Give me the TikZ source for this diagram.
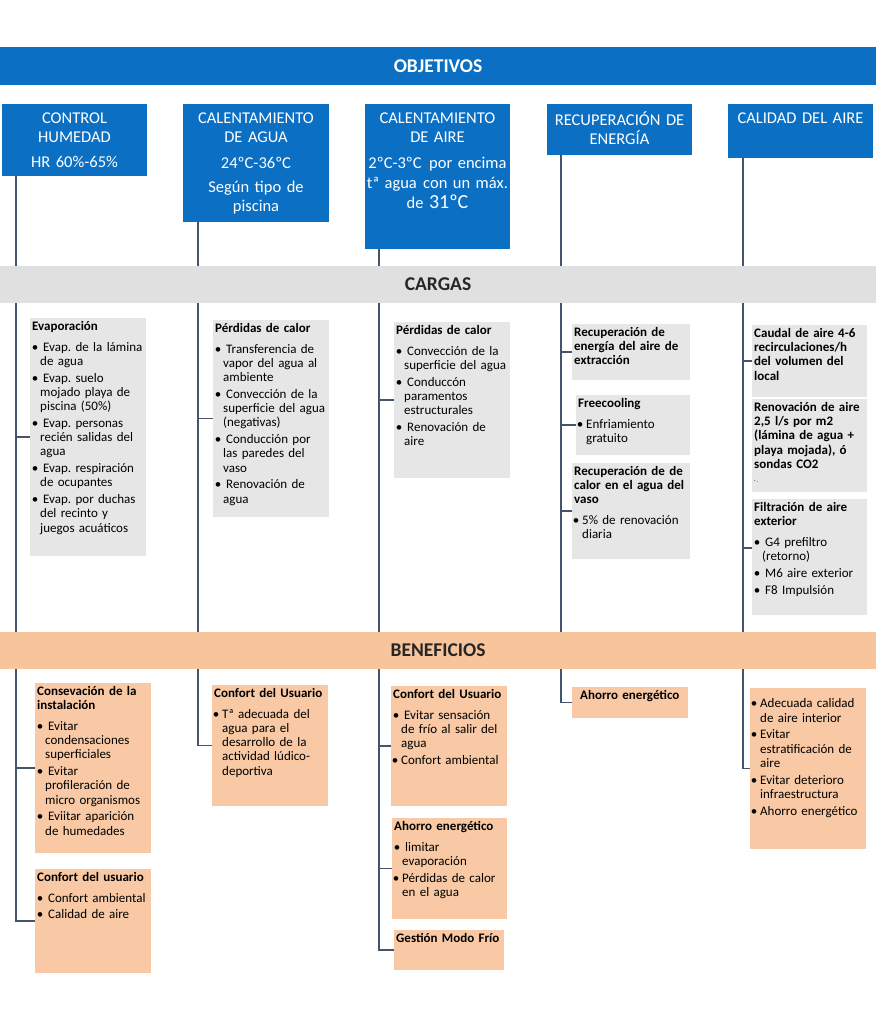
\documentclass[tikz,border=0pt]{standalone}
\usepackage{fontspec}
\setmainfont{Carlito}
\frenchspacing
\definecolor{objblue}{HTML}{0B6FC4}
\definecolor{linec}{HTML}{44546A}
\definecolor{grayband}{HTML}{E0E0E0}
\definecolor{graybox}{HTML}{E6E6E6}
\definecolor{peachband}{HTML}{F7C49C}
\definecolor{peachbox}{HTML}{F8C9A4}
\pgfdeclarelayer{back}
\pgfsetlayers{back,main}
\newcommand{\nl}{\newline}
\newcommand{\itm}[1]{\par\vspace{2.4pt}\hangindent=8pt\hangafter=1\noindent\makebox[6pt][c]{•}\hspace{5pt}#1\par}
\newcommand{\itmt}[1]{\par\vspace{2.4pt}\hangindent=8pt\hangafter=1\noindent\makebox[4pt][c]{•}\hspace{4pt}#1\par}
\newcommand{\ttl}[1]{\textbf{#1}\par\vspace{4pt}}
\newcommand{\fl}{\rule{0pt}{12pt}}
\newcommand{\tbox}[7]{%
  \node[#6, minimum width=#4pt, minimum height=#5pt, anchor=north west] (#1) at (#2,#3) {};
  \pgfmathsetlengthmacro{\tw}{#4pt+20pt}%
  \node[boxtxt, text width=\tw, anchor=north west] (#1t) at (#1.north west) {\frenchspacing #7\par};}
\newcommand{\obox}[7]{%
  \node[objbox, minimum width=#4pt, minimum height=#5pt, anchor=north west] (#1) at (#2,#3) {};
  \pgfmathsetlengthmacro{\tw}{#4pt+30pt}%
  \node[objtxt, text width=\tw] (#1t) at ([yshift=-7.5pt]#1.north) {\fl #7};}
\begin{document}
\begin{tikzpicture}[x=1pt,y=-1pt,
  band/.style={inner sep=0pt, outer sep=0pt, anchor=north west, minimum width=876pt, minimum height=38pt, font=\fontsize{19.5}{22}\selectfont\bfseries},
  objbox/.style={fill=objblue, inner sep=0pt, outer sep=0pt},
  objtxt/.style={text=white, align=center, inner sep=0pt, anchor=north, font=\fontsize{16.5}{19}\selectfont},
  gbox/.style={fill=graybox, inner sep=0pt, outer sep=0pt},
  pbox/.style={fill=peachbox, inner sep=0pt, outer sep=0pt},
  boxtxt/.style={align=left, inner xsep=2pt, inner ysep=3pt, text=black, font=\fontsize{13}{14.3}\selectfont},
  conn/.style={draw=linec, line width=1.2pt}]
\useasboundingbox (0,0) rectangle (889,1024);

% bands
\node[band, fill=objblue, text=white] (objetivos) at (0,47) {OBJETIVOS};
\node[band, fill=grayband, text=black!85, minimum height=37pt] (cargas) at (0,266) {CARGAS};
\node[band, fill=peachband, text=black!85, minimum height=37pt] (beneficios) at (0,632) {BENEFICIOS};

% objectives
\obox{o1}{2}{104}{145}{72}{}{CONTROL\\HUMEDAD\\[6pt]HR 60\%-65\%}
\obox{o2}{183}{104}{146}{118}{}{CALENTAMIENTO\\DE AGUA\\[7pt]24ºC-36ºC\\[5pt]Según tipo de\\piscina}
\obox{o3}{365}{104}{145}{145}{}{CALENTAMIENTO\\DE AIRE\\[7pt]2ºC-3ºC\hspace{0.12em} por encima\\[1pt]tª agua\hspace{0.05em} con un máx.\\[1pt]de {\fontsize{20}{20}\selectfont 31ºC}}
\obox{o4}{547}{104}{145}{51}{}{RECUPERACIÓN DE\\ENERGÍA}
\obox{o5}{728}{104}{145}{54}{}{CALIDAD DEL AIRE}

% cargas
\tbox{c1}{30}{318}{116}{238}{gbox}{\ttl{Evaporación}%
\itm{Evap. de la lámina\nl de agua}%
\itm{Evap. suelo\nl mojado playa de\nl piscina (50\%)}%
\itm{Evap. personas\nl recién salidas del\nl agua}%
\itm{Evap. respiración\nl de ocupantes}%
\itm{Evap. por duchas\nl del recinto y\nl juegos acuáticos}}
\tbox{c2}{213}{320}{116}{197}{gbox}{\ttl{Pérdidas de calor}%
\itm{Transferencia de\nl vapor del agua al\nl ambiente}%
\itm{Convección de la\nl superficie del agua\nl (negativas)}%
\itm{Conducción por\nl las paredes del\nl vaso}%
\itm{Renovación de\nl agua}}
\tbox{c3}{394}{322}{116}{156}{gbox}{\ttl{Pérdidas de calor}%
\itm{Convección de la\nl superficie del agua}%
\itm{Conduccón\nl paramentos\nl estructurales}%
\itm{Renovación de\nl aire}}
\tbox{c4a}{572}{324}{118}{56}{gbox}{\textbf{Recuperación de\nl energía del aire de\nl extracción}}
\tbox{c4b}{576}{395}{114}{60}{gbox}{\ttl{Freecooling}%
\itmt{Enfriamiento\nl gratuito}}
\tbox{c4c}{572}{463}{118}{96}{gbox}{\ttl{Recuperación de de\nl calor en el agua del\nl vaso}%
\itmt{5\% de renovación\nl diaria}}
\tbox{c5a}{752}{325}{115}{72}{gbox}{\textbf{Caudal de aire 4-6\nl recirculaciones/h\nl del volumen del\nl local}}
\tbox{c5b}{752}{399}{115}{93}{gbox}{\textbf{Renovación de aire\nl 2,5 l/s por m2\nl (lámina de agua +\nl playa mojada), ó\nl sondas CO2}\par{\fontsize{6}{7}\selectfont ·\,.}}
\tbox{c5c}{752}{499}{115}{116}{gbox}{\ttl{Filtración de aire\nl exterior}%
\itm{G4 prefiltro\nl (retorno)}%
\itm{M6 aire exterior}%
\itm{F8 Impulsión}}

% beneficios
\tbox{b1a}{35}{683}{116}{170}{pbox}{\ttl{Consevación de la\nl instalación}%
\itm{Evitar\nl condensaciones\nl superficiales}%
\itm{Evitar\nl profileración de\nl micro organismos}%
\itm{Eviitar aparición\nl de humedades}}
\tbox{b1b}{35}{869}{116}{104}{pbox}{\ttl{Confort del usuario}%
\itm{Confort ambiental}%
\itm{Calidad de aire}}
\tbox{b2}{212}{685}{116}{121}{pbox}{\ttl{Confort del Usuario}%
\itmt{Tª adecuada del\nl agua para el\nl desarrollo de la\nl actividad lúdico-\nl deportiva}}
\tbox{b3a}{391}{686}{116}{120}{pbox}{\ttl{Confort del Usuario}%
\itm{Evitar sensación\nl de frío al salir del\nl agua}%
\itmt{Confort ambiental}}
\tbox{b3b}{392}{818}{115}{101}{pbox}{\ttl{Ahorro energético}%
\itm{limitar\nl evaporación}%
\itmt{Pérdidas de calor\nl en el agua}}
\tbox{b3c}{394}{930}{110}{40}{pbox}{\textbf{Gestión Modo Frío}}
\tbox{b4}{572}{687}{116}{31}{pbox}{\hspace*{6pt}\textbf{Ahorro energético}}
\tbox{b5}{750}{688}{116}{161}{pbox}{\mbox{}%
\itmt{Adecuada calidad\nl de aire interior}%
\itmt{Evitar\nl estratificación de\nl aire}%
\itmt{Evitar deterioro\nl infraestructura}%
\itmt{Ahorro energético}}

% connectors
\coordinate (L1) at (16,0);
\coordinate (L2) at (198,0);
\coordinate (L3) at (379,0);
\coordinate (L4) at (561,0);
\coordinate (L5) at (743,0);
\begin{pgfonlayer}{back}
\draw[conn] (o1.south -| L1) |- (c1.west);
\draw[conn] (o1.south -| L1) |- (b1a.west);
\draw[conn] (o1.south -| L1) |- (b1b.west);
\draw[conn] (o2.south -| L2) |- (c2.west);
\draw[conn] (o2.south -| L2) |- (b2.west);
\draw[conn] (o3.south -| L3) |- (c3.west);
\draw[conn] (o3.south -| L3) |- (b3a.west);
\draw[conn] (o3.south -| L3) |- (b3b.west);
\draw[conn] (o3.south -| L3) |- (b3c.west);
\draw[conn] (o4.south -| L4) |- (c4a.west);
\draw[conn] (o4.south -| L4) |- (c4b.west);
\draw[conn] (o4.south -| L4) |- (c4c.west);
\draw[conn] (o4.south -| L4) |- (b4.west);
\draw[conn] (o5.south -| L5) |- (c5a.west);
\draw[conn] (o5.south -| L5) |- ([yshift=9pt]c5c.west);
\draw[conn] (o5.south -| L5) |- (b5.west);
\end{pgfonlayer}
\end{tikzpicture}
\end{document}
